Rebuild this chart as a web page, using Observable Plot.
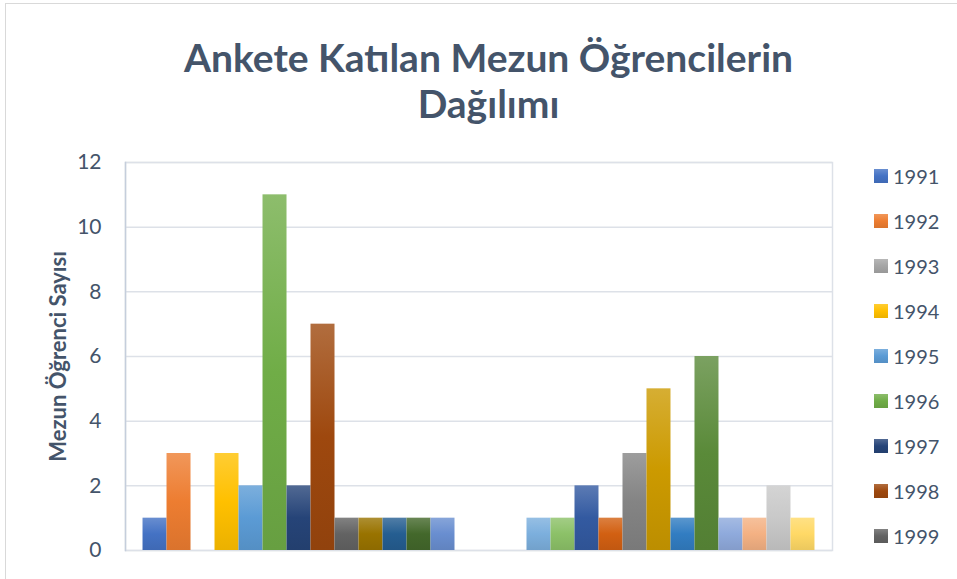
<!DOCTYPE html>
<html><head><meta charset="utf-8">
<script src="https://cdn.jsdelivr.net/npm/d3@7"></script>
<script src="https://cdn.jsdelivr.net/npm/@observablehq/plot@0.6"></script>
<style>
html,body{margin:0;padding:0;background:#fff;overflow:hidden;width:957px;height:579px;}
body{position:relative;font-family:Lato,"Open Sans",sans-serif;color:#44546A;}
#border{position:absolute;left:5px;top:3px;width:1000px;height:700px;border:1px solid #D9D9D9;box-sizing:border-box;}
#title{position:absolute;left:0;top:34px;width:977px;text-align:center;font-weight:bold;font-size:39px;line-height:46px;}
#chart{position:absolute;left:0;top:130px;}
#legend{position:absolute;left:874px;top:153px;}
.item{height:45px;display:flex;align-items:center;font-size:20px;}
.sw{width:14px;height:14px;margin-right:5px;}
</style></head>
<body>
<div id="border"></div>
<div id="title">Ankete Katılan Mezun Öğrencilerin<br>Dağılımı</div>
<div id="chart"></div>
<div id="legend"></div>
<script>
const years = ["1991","1992","1993","1994","1995","1996","1997","1998","1999","2000","2001","2002","2003","2004","2005","2006","2007","2008","2009","2010","2011","2012","2013","2014","2015","2016","2017","2018"];
const counts = [1,3,0,3,2,11,2,7,1,1,1,1,1,0,0,0,1,1,2,1,3,5,1,6,1,1,2,1];
const legendYears = ["1991","1992","1993","1994","1995","1996","1997","1998","1999"];
const yTicks = [0,2,4,6,8,10,12];
const yLabel = "Mezun Öğrenci Sayısı";
const accents = ["#4472C4","#ED7D31","#A5A5A5","#FFC000","#5B9BD5","#70AD47"];
const variants = [[1,0],[0.6,0],[0.8,0.2],[0.8,0],[0.6,0.4]];

const palette = years.map((_, i) => {
  const [m, o] = variants[Math.floor(i / 6)];
  const c = d3.hsl(accents[i % 6]);
  c.l = c.l * m + o;
  return c.formatHex();
});
const tint = c => d3.interpolateRgb(c, "#fff")(0.2);
const shade = c => d3.interpolateRgb(c, "#000")(0.08);

const data = years.map((y, i) => ({year: y, count: counts[i], fill: `url(#g${i})`}));

const plot = Plot.plot({
  width: 957, height: 449,
  marginTop: 32, marginBottom: 29, marginLeft: 125, marginRight: 125,
  style: {fontFamily: "Lato, 'Open Sans', sans-serif", color: "#44546A", background: "transparent"},
  x: {domain: years, paddingInner: 0, paddingOuter: 0.73, round: false, axis: null},
  y: {domain: [0, 12]},
  color: {type: "identity"},
  marks: [
    Plot.gridY(yTicks, {stroke: "#DDE1E8", strokeOpacity: 1, strokeWidth: 1.5}),
    Plot.frame({stroke: "#DDE1E8", strokeWidth: 1.5}),
    Plot.frame({anchor: "left", stroke: "#C5CEDC", strokeWidth: 1.5}),
    Plot.barY(data, {x: "year", y: "count", fill: "fill", insetLeft: 0, insetRight: 0}),
    Plot.axisY(yTicks, {tickSize: 0, tickPadding: 24, fontSize: 21, label: null, fill: "#44546A"}),
    Plot.text([yLabel], {frameAnchor: "left", textAnchor: "middle", rotate: -90, dx: -67, fontWeight: "bold", fontSize: 22, fill: "#44546A"})
  ]
});

const svg = d3.select(plot);
const defs = svg.insert("defs", ":first-child");
palette.forEach((c, i) => {
  const g = defs.append("linearGradient").attr("id", `g${i}`).attr("x1", 0).attr("y1", 0).attr("x2", 0).attr("y2", 1);
  g.append("stop").attr("offset", "0%").attr("stop-color", tint(c));
  g.append("stop").attr("offset", "50%").attr("stop-color", c);
  g.append("stop").attr("offset", "100%").attr("stop-color", shade(c));
});
document.getElementById("chart").appendChild(plot);

const legend = d3.select("#legend");
legendYears.forEach(y => {
  const c = palette[years.indexOf(y)];
  const it = legend.append("div").attr("class", "item");
  it.append("div").attr("class", "sw").style("background", `linear-gradient(${tint(c)}, ${c}, ${shade(c)})`);
  it.append("span").text(y);
});
</script>
</body></html>
